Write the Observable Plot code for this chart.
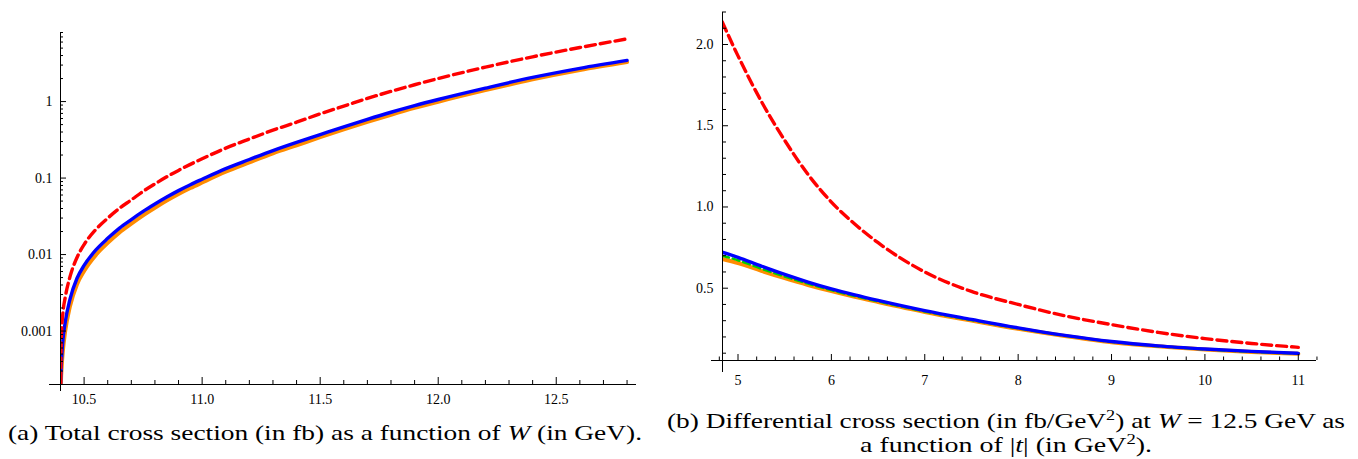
<!DOCTYPE html>
<html><head><meta charset="utf-8">
<script src="https://cdn.jsdelivr.net/npm/d3@7"></script>
<script src="https://cdn.jsdelivr.net/npm/@observablehq/plot@0.6"></script>
<style>
html,body{margin:0;padding:0;background:#fff;}
#wrap{position:relative;width:1358px;height:459px;overflow:hidden;background:#fff;}
#a{position:absolute;left:0;top:0}
#b{position:absolute;left:660px;top:0}
svg text{font-family:"Liberation Serif","Times New Roman",serif !important;}
.cap{position:absolute;font-family:"Liberation Serif","Times New Roman",serif;color:#000;white-space:nowrap;font-size:21px;line-height:24px;transform-origin:0 0;}
</style></head><body>
<div id="wrap"><div id="a"></div><div id="b"></div>
<div class="cap" id="capA">(a) Total cross section (in fb) as a function of <i>W</i> (in GeV).</div>
<div class="cap" id="capB1">(b) Differential cross section (in fb/GeV<sup style="font-size:14px;line-height:0">2</sup>) at <i>W</i> = 12.5 GeV as</div>
<div class="cap" id="capB2">a function of |<i>t</i>| (in GeV<sup style="font-size:14px;line-height:0">2</sup>).</div>
</div>
<script>
// ---------- (a) total cross section vs W ----------
const wValues     = [10.4005, 10.402, 10.405, 10.41, 10.42, 10.44, 10.47, 10.5, 10.55, 10.6, 10.65, 10.7, 10.75, 10.8, 10.85, 10.9, 10.95, 11.0, 11.1, 11.2, 11.3, 11.4, 11.5, 11.6, 11.7, 11.8, 11.9, 12.0, 12.2, 12.4, 12.6, 12.8];
const totalRed    = [2.1e-4, 5.5e-4, 0.00105, 0.0017, 0.00275, 0.0051, 0.00916, 0.0135, 0.0213, 0.0299, 0.0403, 0.0518, 0.0671, 0.0839, 0.1038, 0.126, 0.151, 0.179, 0.246, 0.324, 0.423, 0.537, 0.692, 0.871, 1.10, 1.36, 1.66, 2.0, 2.82, 3.85, 5.09, 6.6];
const totalBlue   = [2.0e-4, 3.0e-4, 4.5e-4, 7.5e-4, 0.0013, 0.0026, 0.0049, 0.0072, 0.0115, 0.0163, 0.0222, 0.0287, 0.0366, 0.0457, 0.0564, 0.0685, 0.0818, 0.0965, 0.133, 0.175, 0.229, 0.293, 0.37, 0.467, 0.585, 0.725, 0.885, 1.065, 1.5, 2.07, 2.72, 3.45];
const totalOrange = [1.4e-4, 2.2e-4, 3.4e-4, 5.5e-4, 0.001, 0.0021, 0.0041, 0.0061, 0.0099, 0.0142, 0.0195, 0.0254, 0.0326, 0.0409, 0.0507, 0.0618, 0.074, 0.0875, 0.121, 0.16, 0.21, 0.268, 0.342, 0.432, 0.542, 0.673, 0.826, 0.995, 1.41, 1.95, 2.58, 3.28];
const xDomainA = [10.4, 12.84];
const yDomainA = [2e-4, 8];
const xMajorA = [10.5, 11.0, 11.5, 12.0, 12.5];
const xMajorLabelsA = ["10.5", "11.0", "11.5", "12.0", "12.5"];
const xMinorA = [10.4, 10.6, 10.7, 10.8, 10.9, 11.1, 11.2, 11.3, 11.4, 11.6, 11.7, 11.8, 11.9, 12.1, 12.2, 12.3, 12.4, 12.6, 12.7, 12.8];
const yMajorA = [0.001, 0.01, 0.1, 1];
const yMajorLabelsA = ["0.001", "0.01", "0.1", "1"];
const yMinorA = [2e-4,3e-4,4e-4,5e-4,6e-4,7e-4,8e-4,9e-4, 0.002,0.003,0.004,0.005,0.006,0.007,0.008,0.009, 0.02,0.03,0.04,0.05,0.06,0.07,0.08,0.09, 0.2,0.3,0.4,0.5,0.6,0.7,0.8,0.9, 2,3,4,5,6,7,8];

// ---------- (b) differential cross section vs |t| ----------
const tValues    = [4.83, 5.0, 5.25, 5.5, 5.75, 6.0, 6.25, 6.5, 7.0, 7.5, 8.0, 8.5, 9.0, 9.5, 10.0, 10.5, 11.0];
const diffRed    = [2.14, 1.93, 1.65, 1.41, 1.20, 1.03, 0.895, 0.78, 0.60, 0.48, 0.40, 0.33, 0.276, 0.228, 0.19, 0.16, 0.136];
const diffBlue   = [0.722, 0.69, 0.636, 0.585, 0.538, 0.496, 0.459, 0.425, 0.362, 0.308, 0.256, 0.21, 0.172, 0.145, 0.126, 0.111, 0.099];
const diffGreen  = [0.70, 0.672, 0.62, 0.572, 0.528, 0.488, 0.452, 0.419, 0.357, 0.304, 0.253, 0.208, 0.170, 0.143, 0.124, 0.109, 0.097];
const diffOrange = [0.68, 0.655, 0.607, 0.562, 0.52, 0.482, 0.447, 0.415, 0.354, 0.301, 0.25, 0.206, 0.168, 0.142, 0.123, 0.108, 0.096];
const xDomainB = [4.834, 11.195];
const yDomainB = [0.055, 2.197];
const xMajorB = [5, 6, 7, 8, 9, 10, 11];
const xMajorLabelsB = ["5", "6", "7", "8", "9", "10", "11"];
const xMinorB = [4.8, 5.2, 5.4, 5.6, 5.8, 6.2, 6.4, 6.6, 6.8, 7.2, 7.4, 7.6, 7.8, 8.2, 8.4, 8.6, 8.8, 9.2, 9.4, 9.6, 9.8, 10.2, 10.4, 10.6, 10.8, 11.2];
const yMajorB = [0.5, 1.0, 1.5, 2.0];
const yMajorLabelsB = ["0.5", "1.0", "1.5", "2.0"];
const yMinorB = [0.1, 0.2, 0.3, 0.4, 0.6, 0.7, 0.8, 0.9, 1.1, 1.2, 1.3, 1.4, 1.6, 1.7, 1.8, 1.9, 2.1, 2.2];

const series = (xs, ys) => xs.map((x, i) => ({x, y: ys[i]}));
const base = {x: "x", y: "y", curve: "monotone-x", clip: true};
const FONT = '"Liberation Serif", "Times New Roman", serif';
const fontStyle = {fontFamily: FONT, fontSize: "14px", color: "#000", background: "transparent", overflow: "visible"};
const txt = {fontFamily: FONT, fontSize: 14, fill: "#000"};

function labelFmt(values, labels) { return d => labels[values.indexOf(d)]; }

const plotA = Plot.plot({
  width: 660, height: 410,
  marginLeft: 60, marginRight: 24, marginTop: 32, marginBottom: 26,
  style: fontStyle,
  x: {domain: xDomainA, label: null},
  y: {type: "log", domain: yDomainA, label: null},
  marks: [
    Plot.line(series(wValues, totalOrange), {...base, stroke: "#ff8c00", strokeWidth: 4}),
    Plot.line(series(wValues, totalBlue), {...base, stroke: "#0000ff", strokeWidth: 3.4}),
    Plot.line(series(wValues, totalRed), {...base, stroke: "#ff0000", strokeWidth: 3.4, strokeDasharray: "10,5"}),
    Plot.ruleY([yDomainA[0]], {insetLeft: -11, stroke: "#000", strokeWidth: 1}),
    Plot.ruleX([xDomainA[0]], {insetBottom: -7, stroke: "#000", strokeWidth: 1}),
    Plot.axisX({ticks: xMinorA, tickSize: -4, tickFormat: () => "", label: null, stroke: "#000"}),
    Plot.axisX({ticks: xMajorA, tickSize: -7, tickFormat: () => "", label: null, stroke: "#000"}),
    Plot.axisX({ticks: xMajorA, tickSize: 0, tickPadding: 10, label: null, tickFormat: labelFmt(xMajorA, xMajorLabelsA), ...txt}),
    Plot.axisY({ticks: yMinorA, tickSize: -3, tickFormat: () => "", label: null, stroke: "#000"}),
    Plot.axisY({ticks: yMajorA, tickSize: -6, tickFormat: () => "", label: null, stroke: "#000"}),
    Plot.axisY({ticks: yMajorA, tickSize: 0, tickPadding: 8, label: null, tickFormat: labelFmt(yMajorA, yMajorLabelsA), ...txt})
  ]
});
document.getElementById("a").appendChild(plotA);

const plotB = Plot.plot({
  width: 698, height: 410,
  marginLeft: 62, marginRight: 42, marginTop: 12, marginBottom: 50,
  style: fontStyle,
  x: {domain: xDomainB, label: null},
  y: {domain: yDomainB, label: null},
  marks: [
    Plot.line(series(tValues, diffOrange), {...base, stroke: "#ff8c00", strokeWidth: 4}),
    Plot.line(series(tValues, diffGreen), {...base, stroke: "#00d000", strokeWidth: 2.5, strokeDasharray: "7,4"}),
    Plot.line(series(tValues, diffBlue), {...base, stroke: "#0000ff", strokeWidth: 3.4}),
    Plot.line(series(tValues, diffRed), {...base, stroke: "#ff0000", strokeWidth: 3.4, strokeDasharray: "10,5"}),
    Plot.ruleY([yDomainB[0]], {insetLeft: -11, stroke: "#000", strokeWidth: 1}),
    Plot.ruleX([xDomainB[0]], {insetBottom: -12, stroke: "#000", strokeWidth: 1}),
    Plot.axisX({ticks: xMinorB, tickSize: -3.5, tickFormat: () => "", label: null, stroke: "#000"}),
    Plot.axisX({ticks: xMajorB, tickSize: -6, tickFormat: () => "", label: null, stroke: "#000"}),
    Plot.axisX({ticks: xMajorB, tickSize: 0, tickPadding: 15, label: null, tickFormat: labelFmt(xMajorB, xMajorLabelsB), ...txt}),
    Plot.axisY({ticks: yMinorB, tickSize: -4, tickFormat: () => "", label: null, stroke: "#000"}),
    Plot.axisY({ticks: yMajorB, tickSize: -6, tickFormat: () => "", label: null, stroke: "#000"}),
    Plot.axisY({ticks: yMajorB, tickSize: 0, tickPadding: 9, label: null, tickFormat: labelFmt(yMajorB, yMajorLabelsB), ...txt})
  ]
});
document.getElementById("b").appendChild(plotB);

// captions: fit to the reference widths
function place(id, left, top, targetW, center) {
  const el = document.getElementById(id);
  const w = el.getBoundingClientRect().width;
  el.style.transform = `scaleX(${targetW / w})`;
  el.style.left = (center ? center - targetW / 2 : left) + "px";
  el.style.top = top + "px";
}
place("capA", 8, 421, 634);
place("capB1", 0, 409, 678, 1006);
place("capB2", 0, 433, 292, 1006);
</script>
</body></html>
